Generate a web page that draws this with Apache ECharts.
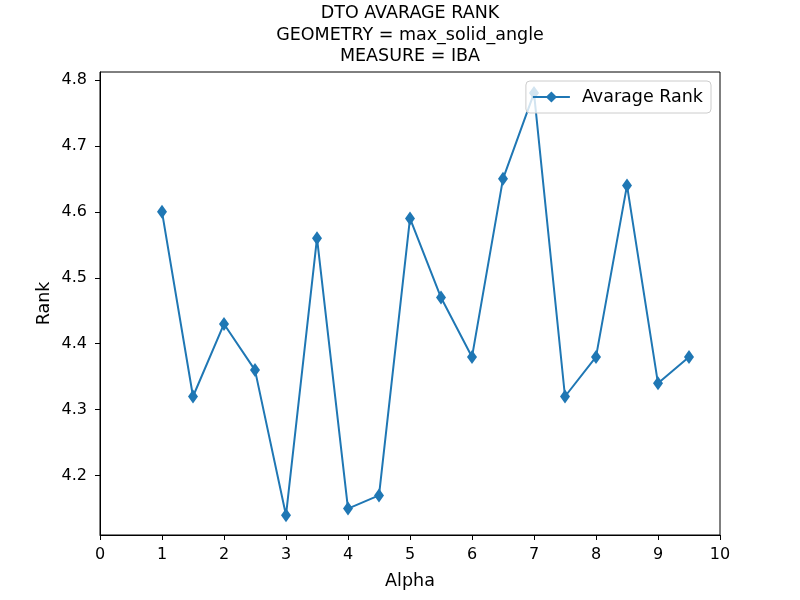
<!DOCTYPE html>
<html>
<head>
<meta charset="utf-8">
<script src="https://cdn.jsdelivr.net/npm/echarts@6/dist/echarts.min.js"></script>
<style>
    html, body { margin: 0; padding: 0; background: #fff; }
    #chart { width: 800px; height: 600px; }
</style>
</head>
<body>
<div id="chart"></div>
<script>
// data
const alphas = [1, 1.5, 2, 2.5, 3, 3.5, 4, 4.5, 5, 5.5, 6, 6.5, 7, 7.5, 8, 8.5, 9, 9.5]
const ranks = [4.60, 4.32, 4.43, 4.36, 4.14, 4.56, 4.15, 4.17, 4.59, 4.47, 4.38, 4.65, 4.78, 4.32, 4.38, 4.64, 4.34, 4.38]
const rankTicks = [4.2, 4.3, 4.4, 4.5, 4.6, 4.7, 4.8]

const font = 'DejaVu Sans'
const blue = '#1f77b4'

let chart = echarts.init(document.getElementById('chart'), null, { renderer: 'canvas' })

let option = {
    animation: false,
    textStyle: { fontFamily: font },
    title: {
        text: 'DTO AVARAGE RANK\nGEOMETRY = max_solid_angle\nMEASURE = IBA',
        left: 410,
        top: 3,
        padding: 0,
        textAlign: 'center',
        textStyle: {
            fontFamily: font,
            fontSize: 17.5,
            fontWeight: 'normal',
            color: '#000',
            lineHeight: 21.5
        }
    },
    legend: {
        right: 89,
        top: 81,
        orient: 'vertical',
        padding: [7, 8, 7, 6],
        itemWidth: 37,
        itemHeight: 14,
        backgroundColor: 'rgba(255,255,255,0.8)',
        borderColor: '#cccccc',
        borderWidth: 1,
        borderRadius: 4,
        textStyle: { fontFamily: font, fontSize: 17.5, color: '#000', padding: [0, 0, 0, 7] },
        data: ['Avarage Rank']
    },
    grid: {
        left: 100,
        right: 80,
        top: 72,
        bottom: 65,
        show: true,
        borderColor: '#000',
        borderWidth: 1,
        backgroundColor: 'transparent'
    },
    xAxis: {
        type: 'value',
        min: 0,
        max: 10,
        interval: 1,
        name: 'Alpha',
        nameLocation: 'middle',
        nameGap: 37,
        nameMoveOverlap: false,
        nameTextStyle: { fontFamily: font, fontSize: 17.5, color: '#000' },
        axisLine: { lineStyle: { color: '#000', width: 1 } },
        axisTick: { show: true, inside: false, length: 5, lineStyle: { color: '#000' } },
        axisLabel: { fontFamily: font, fontSize: 16, color: '#000', margin: 12 },
        splitLine: { show: false }
    },
    yAxis: {
        type: 'value',
        min: 4.11,
        max: 4.812,
        name: 'Rank',
        nameLocation: 'middle',
        nameGap: 47,
        nameMoveOverlap: false,
        nameTextStyle: { fontFamily: font, fontSize: 17.5, color: '#000' },
        axisLine: { show: true, lineStyle: { color: '#000', width: 1 } },
        axisTick: { show: true, length: 5, customValues: rankTicks, lineStyle: { color: '#000' } },
        axisLabel: {
            fontFamily: font,
            fontSize: 16,
            color: '#000',
            margin: 13,
            customValues: rankTicks,
            formatter: v => v.toFixed(1)
        },
        splitLine: { show: false }
    },
    series: [{
        name: 'Avarage Rank',
        type: 'line',
        data: alphas.map((a, i) => [a, ranks[i]]),
        symbol: 'diamond',
        symbolSize: [10, 14],
        showAllSymbol: true,
        lineStyle: { color: blue, width: 2 },
        itemStyle: { color: blue, borderWidth: 0 },
        emphasis: { disabled: true }
    }]
}

chart.setOption(option)
</script>
</body>
</html>
